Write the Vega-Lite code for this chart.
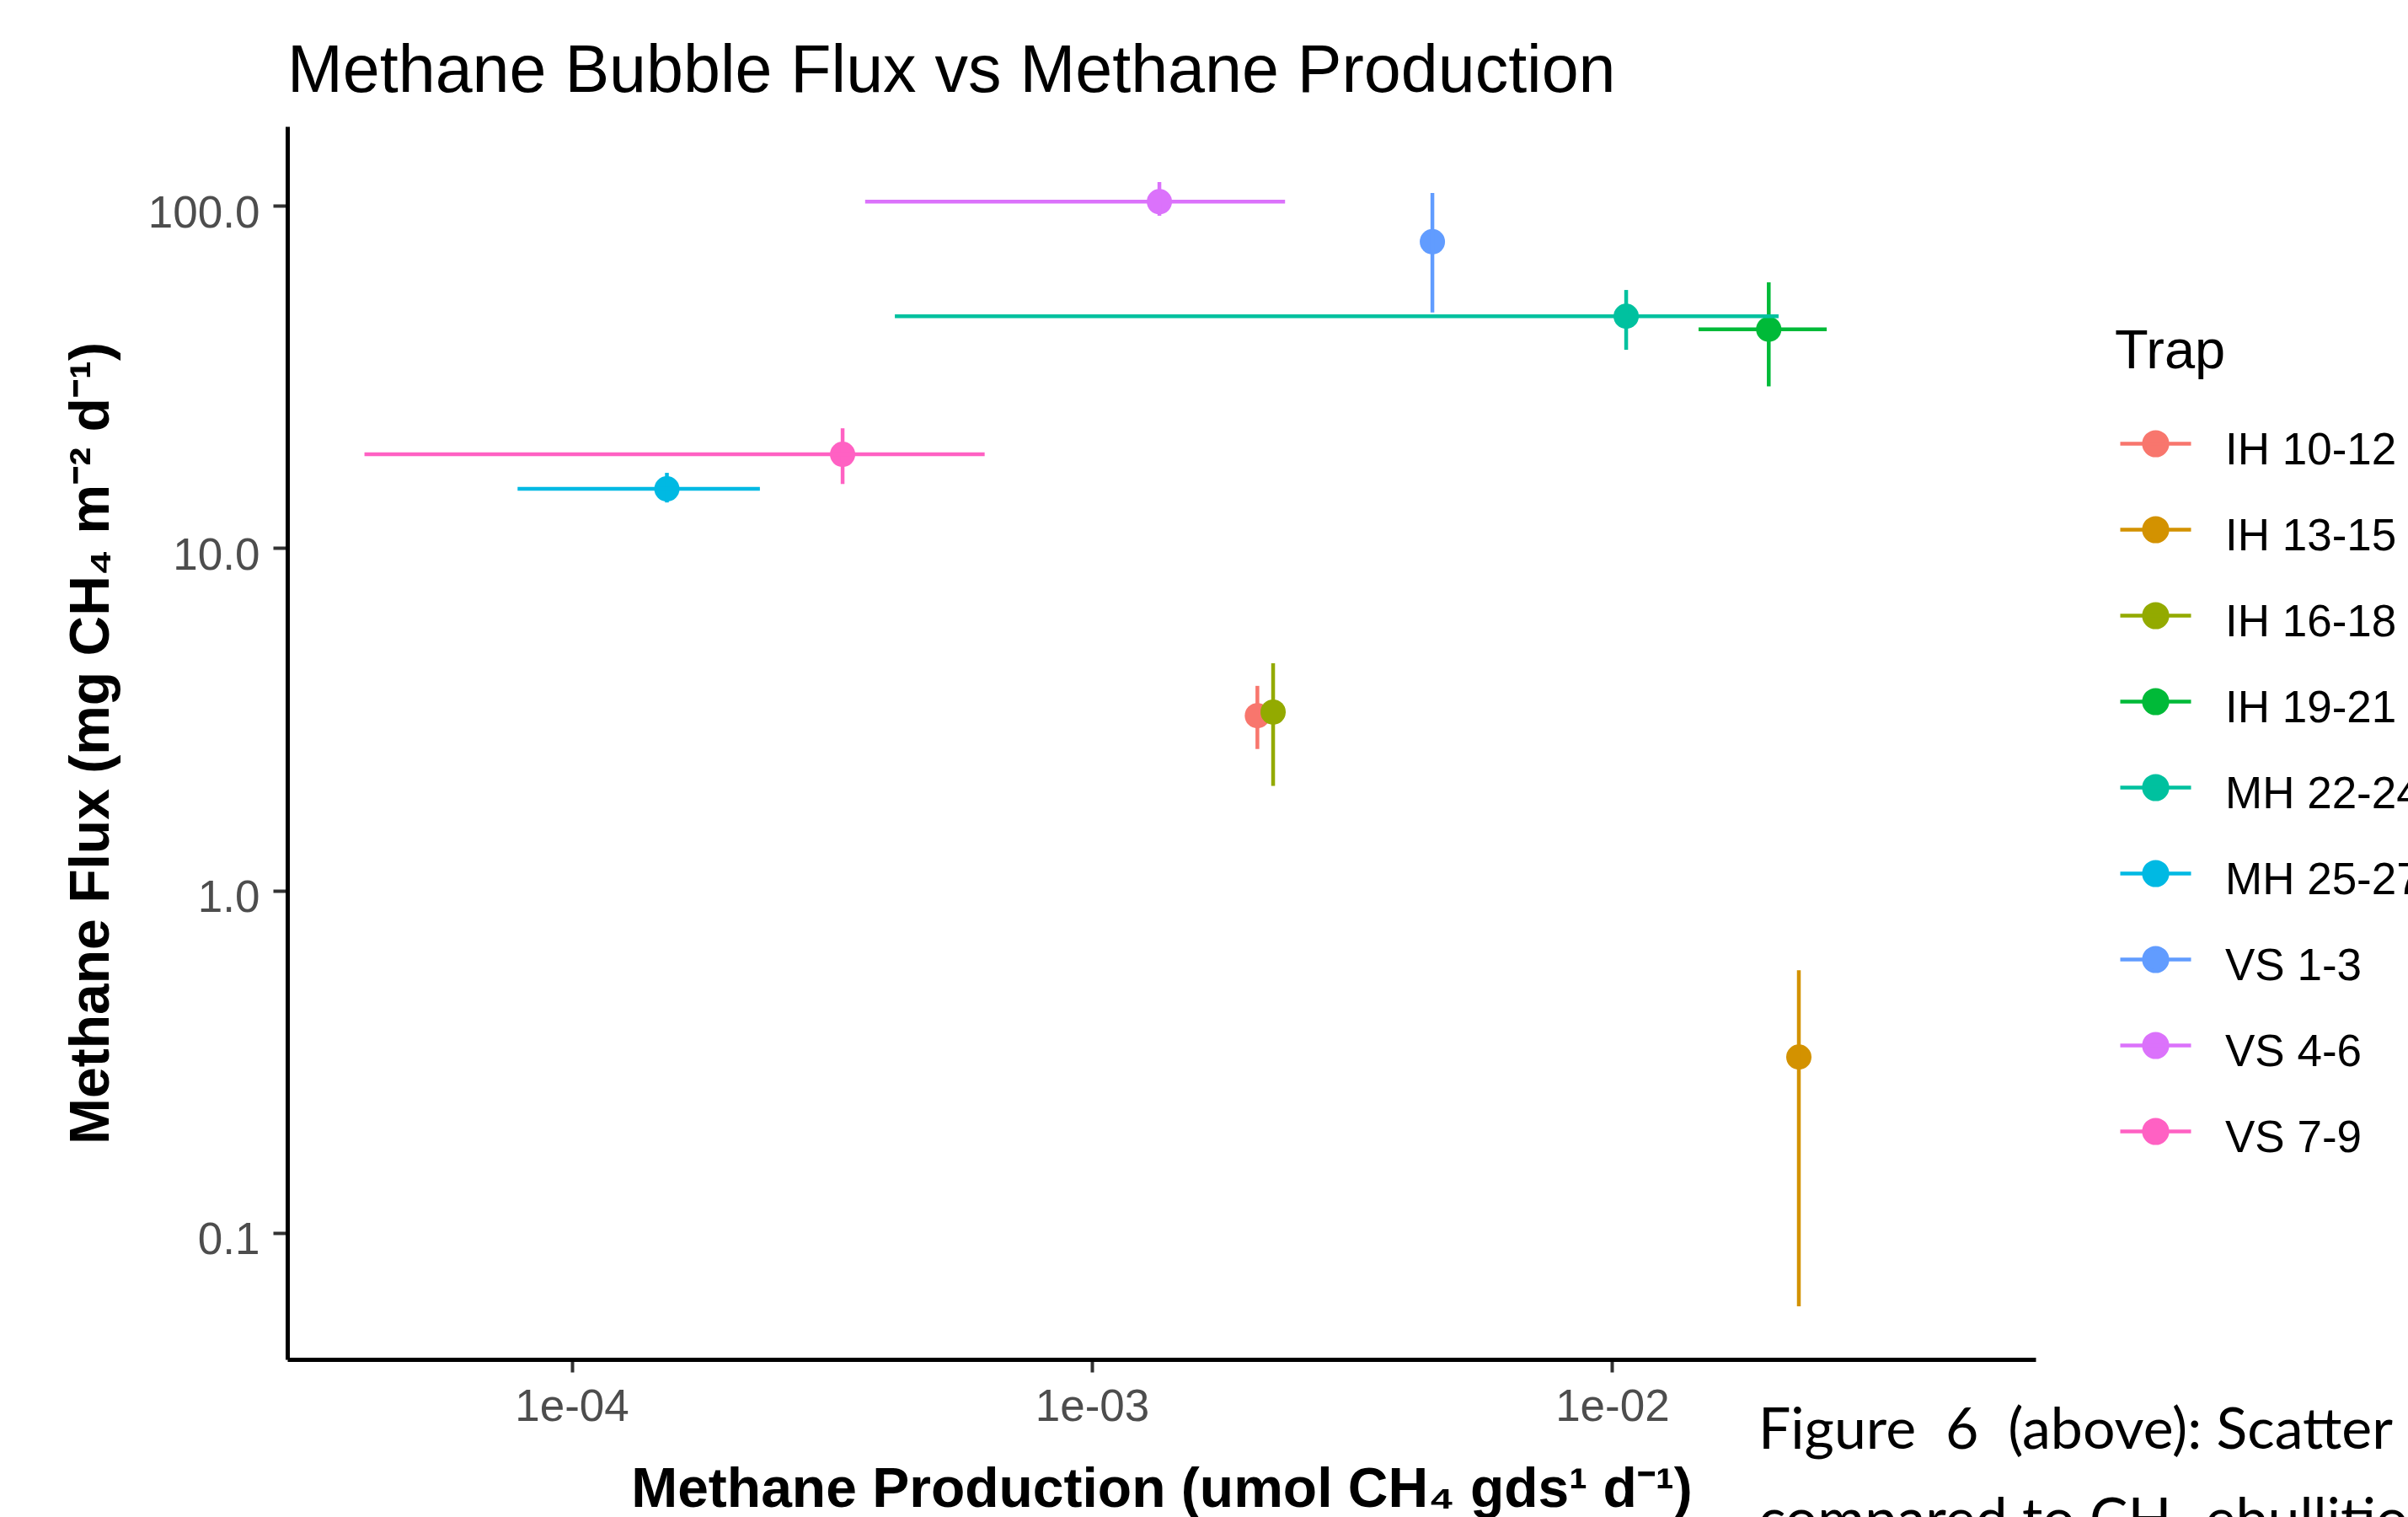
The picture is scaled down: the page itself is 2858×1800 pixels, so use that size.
{
  "$schema": "https://vega.github.io/schema/vega-lite/v6.json",
  "width": 2075,
  "height": 1463,
  "autosize": {"type": "none"},
  "padding": {"left": 341, "top": 150, "right": 442, "bottom": 187},
  "background": "white",
  "title": {
    "text": "Methane Bubble Flux vs Methane Production",
    "anchor": "start",
    "frame": "group",
    "font": "Liberation Sans",
    "fontSize": 79,
    "fontWeight": "normal",
    "color": "black",
    "baseline": "alphabetic",
    "offset": 42,
    "dy": 80
  },
  "config": {
    "view": {"stroke": null},
    "axis": {
      "grid": false,
      "domainColor": "black",
      "domainWidth": 5,
      "tickColor": "#333333",
      "tickWidth": 4,
      "labelFont": "Liberation Sans",
      "labelFontSize": 53,
      "labelColor": "#4D4D4D",
      "titleFont": "Liberation Sans",
      "titleFontSize": 66,
      "titleFontWeight": "bold",
      "titleColor": "black"
    },
    "legend": {
      "orient": "none",
      "legendX": 2169,
      "legendY": 236,
      "padding": 0,
      "titleFont": "Liberation Sans",
      "titleFontSize": 65,
      "titleFontWeight": "normal",
      "titleColor": "black",
      "titlePadding": 31,
      "labelFont": "Liberation Sans",
      "labelFontSize": 53,
      "labelColor": "black",
      "labelOffset": 38,
      "labelLimit": 600,
      "symbolSize": 7056,
      "symbolStrokeWidth": 4.5,
      "symbolOpacity": 1,
      "rowPadding": 22
    }
  },
  "datasets": {
    "traps": [
      {"trap": "IH 10-12", "prod": 0.00208, "prodMin": null, "prodMax": null, "flux": 3.24, "fluxMin": 2.59, "fluxMax": 3.96},
      {"trap": "IH 13-15", "prod": 0.02285, "prodMin": null, "prodMax": null, "flux": 0.326, "fluxMin": 0.061, "fluxMax": 0.585},
      {"trap": "IH 16-18", "prod": 0.00223, "prodMin": null, "prodMax": null, "flux": 3.32, "fluxMin": 2.02, "fluxMax": 4.61},
      {"trap": "IH 19-21", "prod": 0.0200, "prodMin": 0.01466, "prodMax": 0.02585, "flux": 43.6, "fluxMin": 29.7, "fluxMax": 59.8},
      {"trap": "MH 22-24", "prod": 0.01064, "prodMin": 0.000418, "prodMax": 0.02089, "flux": 47.6, "fluxMin": 38.0, "fluxMax": 56.8},
      {"trap": "MH 25-27", "prod": 0.0001524, "prodMin": 0.0000787, "prodMax": 0.000230, "flux": 14.9, "fluxMin": 13.6, "fluxMax": 16.6},
      {"trap": "VS 1-3", "prod": 0.004513, "prodMin": null, "prodMax": null, "flux": 78.6, "fluxMin": 48.8, "fluxMax": 109.0},
      {"trap": "VS 4-6", "prod": 0.001348, "prodMin": 0.0003665, "prodMax": 0.002351, "flux": 102.9, "fluxMin": 93.6, "fluxMax": 117.4},
      {"trap": "VS 7-9", "prod": 0.0003317, "prodMin": 0.00003996, "prodMax": 0.000622, "flux": 18.8, "fluxMin": 15.4, "fluxMax": 22.4}
    ],
    "caption": [
      {"text": "Figure\u00a0 6\u00a0 (above): Scatter\ncompared to CH₄ ebullition"}
    ]
  },
  "layer": [
    {
      "data": {"name": "traps"},
      "mark": {"type": "point", "filled": true, "size": 900, "opacity": 1, "strokeWidth": 0},
      "encoding": {
        "x": {
          "field": "prod", "type": "quantitative",
          "scale": {"type": "log", "domain": [0.0000284, 0.06516], "nice": false, "zero": false},
          "axis": {
            "values": [0.0001, 0.001, 0.01],
            "labelExpr": "'1e-0' + format(-log(datum.value)/LN10, '.0f')",
            "title": "Methane Production (umol CH₄ gds¹ d⁻¹)",
            "tickSize": 15, "labelPadding": 15, "titlePadding": 39
          }
        },
        "y": {
          "field": "flux", "type": "quantitative",
          "scale": {"type": "log", "domain": [0.04265, 170.7], "nice": false, "zero": false},
          "axis": {
            "values": [0.1, 1, 10, 100],
            "format": ".1f",
            "title": "Methane Flux (mg CH₄ m⁻² d⁻¹)",
            "tickSize": 17, "labelPadding": 16, "labelBaseline": "alphabetic", "labelOffset": 25, "titlePadding": 33
          }
        },
        "color": {
          "field": "trap", "type": "nominal",
          "scale": {
            "domain": ["IH 10-12", "IH 13-15", "IH 16-18", "IH 19-21", "MH 22-24", "MH 25-27", "VS 1-3", "VS 4-6", "VS 7-9"],
            "range": ["#F8766D", "#D39200", "#93AA00", "#00BA38", "#00C19F", "#00B9E3", "#619CFF", "#DB72FB", "#FF61C3"]
          },
          "legend": {
            "title": "Trap",
            "symbolType": "M-1,0L1,0M-0.33,0A0.33,0.33,0,1,0,0.33,0A0.33,0.33,0,1,0,-0.33,0Z",
            "encode": {
              "symbols": {"update": {
                "fill": {"scale": "color", "field": "value"},
                "stroke": {"scale": "color", "field": "value"},
                "shape": {"value": "M-1,0L1,0M-0.33,0A0.33,0.33,0,1,0,0.33,0A0.33,0.33,0,1,0,-0.33,0Z"},
                "size": {"value": 7056},
                "strokeWidth": {"value": 4.5},
                "opacity": {"value": 1}
              }},
              "labels": {"update": {"dy": {"value": 8}}},
              "title": {"update": {"dx": {"value": -4}}}
            }
          }
        }
      }
    },
    {
      "data": {"name": "traps"},
      "mark": {"type": "rule", "strokeWidth": 4.5},
      "encoding": {
        "x": {"field": "prod", "type": "quantitative"},
        "y": {"field": "fluxMin", "type": "quantitative"},
        "y2": {"field": "fluxMax"},
        "color": {"field": "trap", "type": "nominal"}
      }
    },
    {
      "data": {"name": "traps"},
      "transform": [{"filter": "datum.prodMin != null"}],
      "mark": {"type": "rule", "strokeWidth": 4.5},
      "encoding": {
        "x": {"field": "prodMin", "type": "quantitative"},
        "x2": {"field": "prodMax"},
        "y": {"field": "flux", "type": "quantitative"},
        "color": {"field": "trap", "type": "nominal"}
      }
    },
    {
      "data": {"name": "caption"},
      "mark": {"type": "text", "font": "Lato", "fontSize": 68, "align": "left", "baseline": "alphabetic", "color": "black", "lineBreak": "\n", "lineHeight": 107},
      "encoding": {
        "x": {"datum": 0.0191, "type": "quantitative"},
        "y": {"datum": 0.02337, "type": "quantitative"},
        "text": {"field": "text"}
      }
    }
  ]
}
